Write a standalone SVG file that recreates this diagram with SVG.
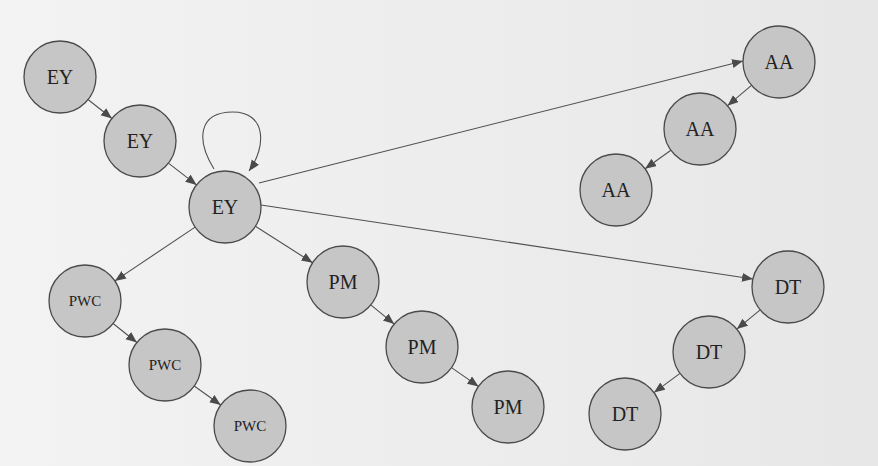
<svg xmlns="http://www.w3.org/2000/svg" width="878" height="466" viewBox="0 0 878 466">
  <style>
    .node circle { fill: #c6c6c6; stroke: #4a4a4a; stroke-width: 1.3; }
    .node text { font-family: "Liberation Serif", "Times New Roman", serif; font-size: 20px; fill: #222; text-anchor: middle; }
    .node text.small { font-size: 15px; }
    .edge { fill: none; stroke: #505050; stroke-width: 1.1; marker-end: url(#arrow); }
  </style>
  <defs>
    <linearGradient id="paper" x1="0" y1="0" x2="1" y2="0">
      <stop offset="0" stop-color="#f3f3f3"/>
      <stop offset="1" stop-color="#e7e7e7"/>
    </linearGradient>
    <marker id="arrow" markerUnits="userSpaceOnUse" markerWidth="12" markerHeight="10" refX="11" refY="4.5" orient="auto">
      <path d="M0,0 L11,4.5 L0,9 z" fill="#4a4a4a"/>
    </marker>
  </defs>

  <rect width="878" height="466" fill="url(#paper)"/>

  <g id="connectors">
    <line class="edge" x1="88" y1="99.5" x2="112" y2="118.5"/>
    <line class="edge" x1="168.4" y1="163.1" x2="196.6" y2="184.9"/>
    <path class="edge" d="M214,169 C196,140 198,112 233,112 C266,112 267,146 249,171"/>
    <line class="edge" x1="259" y1="183" x2="743" y2="61"/>
    <line class="edge" x1="261" y1="205" x2="753" y2="279"/>
    <line class="edge" x1="195.1" y1="227.1" x2="114.9" y2="280.9"/>
    <line class="edge" x1="255.4" y1="226.3" x2="312.6" y2="262.7"/>
    <line class="edge" x1="751.5" y1="85.3" x2="727.5" y2="105.7"/>
    <line class="edge" x1="670.9" y1="150.2" x2="645.1" y2="168.8"/>
    <line class="edge" x1="760.2" y1="309.9" x2="736.8" y2="329.1"/>
    <line class="edge" x1="680" y1="373.4" x2="654" y2="392.6"/>
    <line class="edge" x1="113.1" y1="323.5" x2="136.9" y2="342.5"/>
    <line class="edge" x1="194.2" y1="386" x2="220.8" y2="405"/>
    <line class="edge" x1="370.8" y1="304.9" x2="394.2" y2="324.1"/>
    <line class="edge" x1="451.5" y1="367.6" x2="478.5" y2="386.4"/>
  </g>

  <g id="ey1" class="node"><circle cx="60" cy="77" r="36"/><text x="60" y="84">EY</text></g>
  <g id="ey2" class="node"><circle cx="140" cy="141" r="36"/><text x="140" y="148">EY</text></g>
  <g id="ey3" class="node"><circle cx="225" cy="207" r="36"/><text x="225" y="214">EY</text></g>

  <g id="pwc1" class="node"><circle cx="85" cy="301" r="36"/><text class="small" x="85" y="306">PWC</text></g>
  <g id="pwc2" class="node"><circle cx="165" cy="365" r="36"/><text class="small" x="165" y="370">PWC</text></g>
  <g id="pwc3" class="node"><circle cx="250" cy="426" r="36"/><text class="small" x="250" y="431">PWC</text></g>

  <g id="pm1" class="node"><circle cx="343" cy="282" r="36"/><text x="343" y="289">PM</text></g>
  <g id="pm2" class="node"><circle cx="422" cy="347" r="36"/><text x="422" y="354">PM</text></g>
  <g id="pm3" class="node"><circle cx="508" cy="407" r="36"/><text x="508" y="414">PM</text></g>

  <g id="aa1" class="node"><circle cx="779" cy="62" r="36"/><text x="779" y="69">AA</text></g>
  <g id="aa2" class="node"><circle cx="700" cy="129" r="36"/><text x="700" y="136">AA</text></g>
  <g id="aa3" class="node"><circle cx="616" cy="190" r="36"/><text x="616" y="197">AA</text></g>

  <g id="dt1" class="node"><circle cx="788" cy="287" r="36"/><text x="788" y="294">DT</text></g>
  <g id="dt2" class="node"><circle cx="709" cy="352" r="36"/><text x="709" y="359">DT</text></g>
  <g id="dt3" class="node"><circle cx="625" cy="414" r="36"/><text x="625" y="421">DT</text></g>
</svg>
